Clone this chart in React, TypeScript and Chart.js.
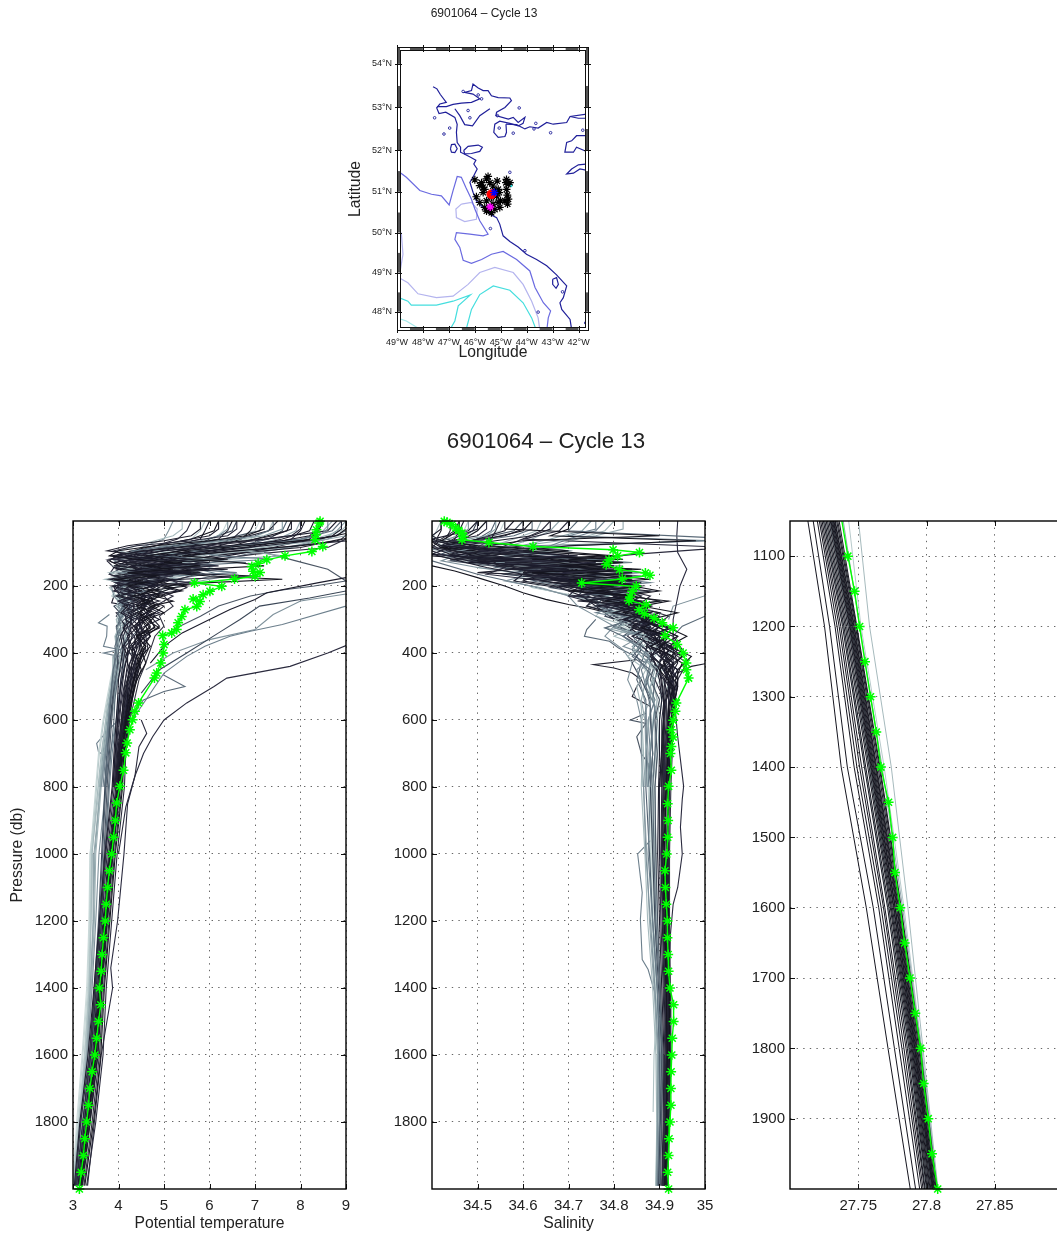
import React, { useEffect, useRef } from "react";
import { Chart, registerables } from "chart.js";

Chart.register(...registerables);

const FONT = "'Liberation Sans', Arial, sans-serif";
const INK = "#222222";
const TITLE_TEXT = "6901064 – Cycle 13";

// ---------- tick lists ----------
const THETA_TICKS = [3, 4, 5, 6, 7, 8, 9];
const SALINITY_TICKS = [34.5, 34.6, 34.7, 34.8, 34.9, 35];
const DENSITY_TICKS = [27.75, 27.8, 27.85];
const PRESSURE_TICKS = [200, 400, 600, 800, 1000, 1200, 1400, 1600, 1800];
const DEEP_PRESSURE_TICKS = [1100, 1200, 1300, 1400, 1500, 1600, 1700, 1800, 1900];
const MAP_LON_TICKS = [-49, -48, -47, -46, -45, -44, -43, -42];
const MAP_LON_LABELS = ["49°W", "48°W", "47°W", "46°W", "45°W", "44°W", "43°W", "42°W"];
const MAP_LAT_TICKS = [48, 49, 50, 51, 52, 53, 54];
const MAP_LAT_LABELS = ["48°N", "49°N", "50°N", "51°N", "52°N", "53°N", "54°N"];

// ---------- shared pressure levels for the reference casts ----------
const CAST_LEVELS = [6, 35, 60, 85, 105, 125, 145, 165, 185, 205, 230, 260, 290, 320, 350, 390, 430, 480, 540, 600, 700, 800, 1000, 1200, 1400, 1600, 1800, 1990];

const CAST_COLORS = [
  "#15151f", "#1c1c2c", "#20202e", "#15151f", "#2a2a3c", "#1c1c2c", "#20202e", "#2a2a3c",
  "#15151f", "#2a2a3c", "#1c1c2c", "#20202e", "#15151f", "#30303f", "#1c1c2c", "#20202e",
  "#4a5563", "#5a6a78", "#3a4656", "#6c7f8c", "#506070", "#7e919b",
  "#93a7ad", "#a6babd", "#b8cacb", "#c6d6d6", "#9db0b5", "#b0c3c5", "#88a0a6", "#cfdcdc",
];

const CAST_THETA = [
  [6.2,6.1,5.6,4.6,4.0,3.8,4.1,4.5,4.2,4.4,4.6,4.5,4.5,4.4,4.4,4.3,4.3,4.2,4.2,4.15,4.05,4.0,3.84,3.72,3.6,3.5,3.33,3.17],
  [8.8,8.6,7.2,5.2,4.4,4.2,3.9,4.3,4.7,4.3,4.5,4.6,4.4,4.5,4.35,4.4,4.3,4.25,4.18,4.1,4.0,3.96,3.8,3.68,3.56,3.45,3.28,3.13],
  [7.5,7.3,6.6,5.8,4.9,4.1,4.4,4.0,4.4,4.8,4.4,4.7,4.6,4.5,4.5,4.45,4.35,4.3,4.25,4.2,4.08,4.04,3.88,3.76,3.64,3.55,3.38,3.21],
  [9.6,9.3,8.4,6.2,5.1,4.6,4.2,4.6,5.0,4.6,4.9,4.5,4.8,4.6,4.7,4.5,4.6,4.4,4.3,4.22,4.12,4.09,3.93,3.81,3.69,3.61,3.45,3.26],
  [6.8,6.7,6.5,5.9,5.2,4.5,3.95,4.2,4.0,4.5,4.2,4.35,4.25,4.3,4.2,4.25,4.15,4.1,4.05,4.0,3.95,3.91,3.75,3.63,3.51,3.39,3.21,3.08],
  [8.1,8.0,7.8,6.9,5.6,4.9,4.5,4.1,4.3,4.1,4.6,4.4,4.6,4.35,4.5,4.4,4.25,4.2,4.12,4.06,3.98,3.94,3.78,3.66,3.54,3.43,3.25,3.11],
  [9.2,9.1,8.9,8.0,6.4,5.3,4.8,4.4,4.6,4.9,4.4,5.0,4.7,4.9,4.6,4.65,4.5,4.35,4.28,4.18,4.06,4.02,3.86,3.74,3.62,3.52,3.36,3.19],
  [5.6,5.5,5.3,4.7,4.1,3.75,3.9,3.8,4.3,4.0,4.1,4.25,4.15,4.2,4.1,4.15,4.1,4.05,4.02,3.98,3.92,3.88,3.72,3.6,3.48,3.36,3.17,3.05],
  [7.0,6.9,6.7,6.1,5.4,4.7,4.3,4.8,4.5,5.2,4.7,4.8,4.5,4.7,4.45,4.5,4.4,4.32,4.22,4.14,4.03,3.98,3.82,3.7,3.58,3.48,3.3,3.15],
  [9.9,9.7,9.4,7.5,5.8,5.0,5.4,4.8,5.1,4.7,5.2,4.8,4.6,4.8,4.55,4.6,4.45,4.38,4.3,4.24,4.16,4.13,3.97,3.85,3.73,3.66,3.5,3.3],
  [8.5,8.4,8.2,7.4,6.6,5.7,5.0,5.3,4.7,4.5,4.7,4.55,4.7,4.4,4.5,4.35,4.38,4.28,4.2,4.12,4.02,3.97,3.81,3.69,3.57,3.46,3.29,3.14],
  [6.5,6.4,6.2,5.3,4.6,4.3,4.0,4.4,3.85,4.2,4.3,4.1,4.3,4.25,4.3,4.2,4.2,4.15,4.1,4.07,4.03,4.01,3.85,3.73,3.61,3.51,3.34,3.18],
  [7.8,7.7,7.0,6.4,5.7,5.1,4.6,5.0,4.4,4.6,4.3,4.9,4.45,4.6,4.4,4.55,4.42,4.33,4.25,4.16,4.07,4.03,3.87,3.75,3.63,3.54,3.37,3.2],
  [9.4,9.2,9.0,8.6,7.0,5.9,5.3,5.7,5.2,5.5,5.0,5.2,4.9,5.0,4.8,4.7,4.6,4.45,4.35,4.25,4.13,4.07,3.91,3.79,3.67,3.58,3.42,3.24],
  [6.0,5.9,5.8,5.1,4.3,4.0,4.6,3.95,4.1,3.9,4.05,4.2,4.0,4.15,4.05,4.1,4.05,4.0,3.98,3.95,3.9,3.86,3.7,3.58,3.46,3.33,3.15,3.03],
  [8.3,8.2,7.6,6.8,5.0,4.4,4.7,4.2,4.5,4.3,4.8,4.3,4.55,4.45,4.6,4.3,4.35,4.22,4.15,4.09,4.02,3.99,3.83,3.71,3.59,3.49,3.32,3.16],
  [7.2,7.1,6.3,5.0,4.2,4.5,4.9,4.3,3.9,4.1,4.0,4.1,3.95,4.2,4.0,3.95,4.0,3.9,3.88,3.85,3.8,3.75,3.68,3.6,3.5,3.38,3.24,3.08],
  [8.9,8.7,8.0,6.0,5.5,4.8,5.5,5.9,5.0,4.4,4.55,4.2,4.3,4.1,4.2,4.05,4.1,3.98,3.92,3.9,3.83,3.78,3.7,3.62,3.52,3.4,3.25,3.1],
  [6.6,6.5,6.0,5.6,5.0,4.4,4.1,3.8,4.2,3.95,4.35,3.9,4.1,3.95,4.05,3.95,3.98,3.92,3.86,3.82,3.75,3.7,3.63,3.56,3.47,3.36,3.22,3.06],
  [9.3,9.0,8.6,7.8,6.8,6.2,5.6,6.2,5.6,5.0,4.8,4.6,4.4,4.5,4.3,4.2,4.15,4.05,4.0,3.95,3.86,3.8,3.72,3.64,3.53,3.41,3.26,3.11],
  [7.7,7.6,7.3,6.5,5.3,4.6,4.3,4.7,4.4,4.2,3.95,4.3,4.2,3.98,4.1,4.0,3.98,3.94,3.88,3.82,3.78,3.72,3.65,3.58,3.48,3.37,3.23,3.07],
  [5.2,5.1,5.0,4.5,4.3,3.9,4.2,4.5,4.0,3.85,3.9,4.1,4.15,4.25,4.2,4.1,4.12,4.08,4.0,3.95,3.82,3.72,3.57,3.5,3.42,3.32,3.18,3.04],
  [8.0,7.9,7.5,6.7,5.9,5.2,4.6,4.9,5.4,4.6,4.3,4.3,4.2,4.1,4.15,4.05,4.0,3.95,3.88,3.82,3.7,3.6,3.46,3.44,3.38,3.3,3.16,3.02],
  [9.1,8.9,8.3,7.2,6.3,5.5,5.2,5.6,4.8,4.3,4.1,4.2,4.3,4.05,4.0,3.98,3.95,3.88,3.8,3.72,3.62,3.55,3.42,3.4,3.36,3.28,3.14,3.0],
  [7.4,7.3,6.9,5.5,4.8,4.4,4.8,4.2,4.4,4.0,3.85,4.3,4.05,4.1,3.98,4.0,3.92,3.85,3.76,3.68,3.58,3.52,3.4,3.38,3.34,3.25,3.12,3.0],
  [6.4,6.3,6.1,5.2,4.7,4.2,4.5,4.05,3.9,4.15,4.0,4.15,4.0,4.05,4.0,3.95,3.9,3.82,3.74,3.66,3.56,3.5,3.38,3.36,3.32,3.22,3.1,2.98],
  [8.7,8.5,8.1,7.0,6.0,5.4,5.8,5.1,4.6,4.9,4.4,4.4,4.3,4.2,4.25,4.1,4.05,3.98,3.92,3.85,3.72,3.62,3.5,3.47,3.4,3.32,3.18,3.03],
  [5.9,5.8,5.6,4.9,4.4,4.7,4.25,4.0,4.3,3.8,3.95,4.1,4.05,4.0,4.05,3.98,3.96,3.9,3.84,3.78,3.66,3.58,3.41,3.39,3.35,3.26,3.13,3.01],
  [9.0,8.8,8.5,7.7,6.2,5.6,6.0,6.6,5.8,5.2,4.7,4.5,4.35,4.25,4.15,4.1,4.02,3.96,3.9,3.82,3.7,3.6,3.48,3.45,3.38,3.3,3.17,3.05],
  [7.1,7.0,6.4,5.7,5.1,4.6,4.9,4.4,4.05,4.25,3.9,4.05,4.12,4.0,3.98,4.0,3.92,3.86,3.8,3.74,3.64,3.56,3.37,3.35,3.3,3.2,3.08,2.99],
];

const CAST_SALINITY = [
  [34.38,34.38,34.39,34.42,34.55,34.72,34.66,34.75,34.7,34.78,34.8,34.83,34.86,34.87,34.89,34.9,34.91,34.92,34.925,34.92,34.918,34.915,34.91,34.912,34.915,34.917,34.915,34.912],
  [34.5,34.48,34.4,34.46,34.6,34.68,34.62,34.74,34.78,34.72,34.8,34.84,34.82,34.88,34.87,34.91,34.92,34.93,34.93,34.925,34.92,34.918,34.915,34.916,34.918,34.92,34.918,34.915],
  [34.44,34.44,34.43,34.5,34.58,34.64,34.7,34.66,34.76,34.8,34.77,34.85,34.87,34.86,34.9,34.9,34.93,34.925,34.93,34.92,34.92,34.92,34.918,34.918,34.92,34.918,34.916,34.913],
  [34.62,34.6,34.52,34.42,34.48,34.58,34.68,34.74,34.8,34.76,34.84,34.8,34.88,34.86,34.92,34.9,34.95,34.935,34.93,34.928,34.925,34.92,34.918,34.92,34.922,34.922,34.92,34.918],
  [34.36,34.37,34.38,34.41,34.46,34.55,34.63,34.6,34.72,34.68,34.77,34.82,34.8,34.86,34.85,34.89,34.88,34.91,34.915,34.91,34.91,34.908,34.905,34.908,34.912,34.915,34.912,34.908],
  [34.47,34.46,34.45,34.44,34.52,34.6,34.72,34.68,34.78,34.74,34.82,34.86,34.84,34.9,34.88,34.92,34.91,34.94,34.925,34.93,34.92,34.915,34.912,34.914,34.916,34.918,34.914,34.91],
  [34.55,34.54,34.53,34.5,34.44,34.52,34.6,34.7,34.64,34.76,34.82,34.78,34.86,34.9,34.87,34.93,34.94,34.92,34.935,34.925,34.922,34.92,34.916,34.918,34.92,34.92,34.917,34.914],
  [34.33,34.34,34.35,34.38,34.42,34.48,34.56,34.52,34.65,34.72,34.7,34.78,34.8,34.84,34.83,34.87,34.9,34.89,34.91,34.905,34.905,34.9,34.9,34.903,34.908,34.912,34.91,34.906],
  [34.42,34.42,34.41,34.46,34.5,34.62,34.7,34.76,34.72,34.84,34.8,34.83,34.88,34.84,34.91,34.89,34.93,34.91,34.92,34.92,34.915,34.912,34.908,34.91,34.914,34.916,34.913,34.91],
  [34.7,34.68,34.6,35.05,34.85,34.7,34.78,34.72,34.82,34.78,34.86,34.82,34.9,34.87,34.93,34.95,34.92,34.94,34.93,34.93,34.925,34.922,34.92,34.92,34.922,34.924,34.92,34.916],
  [34.58,34.56,34.5,34.44,34.4,34.56,34.66,34.6,34.74,34.82,34.76,34.87,34.84,34.89,34.86,34.92,34.9,34.92,34.92,34.922,34.918,34.914,34.91,34.914,34.918,34.92,34.916,34.912],
  [34.4,34.39,34.38,34.4,34.44,34.5,34.58,34.64,34.6,34.7,34.76,34.74,34.82,34.85,34.88,34.87,34.9,34.905,34.91,34.912,34.908,34.905,34.903,34.906,34.91,34.914,34.91,34.906],
  [34.52,34.5,34.47,34.43,34.56,34.66,34.74,34.68,34.8,34.75,34.83,34.88,34.85,34.9,34.88,34.94,34.91,34.925,34.92,34.918,34.912,34.91,34.906,34.91,34.915,34.917,34.914,34.91],
  [34.66,34.64,34.6,34.55,34.48,34.6,34.7,34.78,34.84,34.8,34.88,34.85,34.92,34.89,34.94,34.92,34.96,34.94,34.935,34.93,34.928,34.925,34.922,34.922,34.924,34.925,34.922,34.918],
  [34.3,34.31,34.32,34.36,34.4,34.46,34.52,34.6,34.58,34.68,34.73,34.76,34.79,34.83,34.86,34.88,34.89,34.9,34.905,34.9,34.9,34.898,34.896,34.9,34.905,34.91,34.908,34.905],
  [34.46,34.45,34.42,34.4,34.5,34.54,34.64,34.72,34.68,34.78,34.74,34.82,34.86,34.83,34.89,34.91,34.9,34.93,34.915,34.915,34.91,34.908,34.904,34.908,34.912,34.915,34.912,34.908],
  [34.6,34.58,34.5,34.42,34.52,34.44,34.56,34.66,34.72,34.66,34.78,34.74,34.84,34.8,34.87,34.85,34.89,34.88,34.9,34.89,34.895,34.89,34.892,34.896,34.902,34.908,34.905,34.902],
  [34.72,34.7,35.08,34.62,34.5,34.6,34.54,34.7,34.64,34.76,34.8,34.86,34.82,34.88,34.84,34.87,34.86,34.89,34.885,34.895,34.89,34.885,34.888,34.892,34.9,34.906,34.904,34.9],
  [34.5,34.49,34.46,34.42,34.48,34.58,34.64,34.56,34.7,34.74,34.72,34.8,34.78,34.85,34.82,34.86,34.84,34.86,34.88,34.88,34.885,34.88,34.885,34.89,34.898,34.905,34.902,34.898],
  [34.78,34.76,34.7,34.65,34.55,34.48,34.62,34.74,34.68,34.82,34.86,34.83,34.88,34.85,34.9,34.87,34.88,34.87,34.89,34.875,34.88,34.88,34.875,34.885,34.895,34.902,34.9,34.897],
  [34.54,34.53,34.5,34.46,34.42,34.54,34.6,34.68,34.62,34.72,34.78,34.76,34.84,34.81,34.86,34.84,34.86,34.85,34.87,34.87,34.872,34.87,34.878,34.885,34.895,34.9,34.9,34.896],
  [34.34,34.34,34.36,34.38,34.46,34.42,34.5,34.62,34.56,34.64,34.7,34.72,34.76,34.8,34.78,34.82,34.84,34.83,34.85,34.86,34.86,34.865,34.87,34.88,34.89,34.898,34.896,34.894],
  [34.68,34.66,34.62,34.56,34.48,34.64,34.7,34.76,34.7,34.82,34.78,34.86,34.83,34.88,34.85,34.87,34.9,34.87,34.86,34.868,34.87,34.865,34.872,34.878,34.888,34.896,34.895,34.893],
  [34.8,34.78,34.72,34.66,34.58,34.52,34.66,34.6,34.74,34.8,34.84,34.8,34.87,34.9,34.86,34.88,34.87,34.875,34.88,34.86,34.862,34.86,34.868,34.874,34.885,34.892,34.894,34.892],
  [34.48,34.47,34.44,34.42,34.5,34.46,34.58,34.66,34.72,34.78,34.74,34.82,34.79,34.85,34.88,34.86,34.885,34.87,34.89,34.875,34.87,34.875,34.88,34.882,34.89,34.895,34.895,34.892],
  [34.56,34.55,34.5,34.44,34.4,34.5,34.56,34.62,34.58,34.7,34.76,34.8,34.84,34.82,34.87,34.89,34.875,34.9,34.88,34.88,34.885,34.878,34.884,34.888,34.892,34.896,34.896,34.893],
  [34.64,34.63,34.58,34.52,34.44,34.58,34.68,34.74,34.8,34.72,34.84,34.78,34.88,34.85,34.9,34.88,34.92,34.885,34.895,34.89,34.89,34.882,34.886,34.89,34.895,34.9,34.897,34.894],
  [34.42,34.41,34.4,34.43,34.48,34.54,34.5,34.6,34.66,34.62,34.72,34.78,34.76,34.83,34.86,34.9,34.88,34.91,34.9,34.895,34.892,34.886,34.89,34.893,34.9,34.902,34.898,34.895],
  [34.75,34.73,34.66,34.58,34.5,34.62,34.72,34.66,34.8,34.86,34.82,34.88,34.85,34.92,34.9,34.93,34.895,34.925,34.905,34.9,34.896,34.89,34.892,34.895,34.902,34.905,34.9,34.896],
  [34.52,34.5,34.46,34.4,34.46,34.52,34.6,34.56,34.68,34.74,34.7,34.8,34.84,34.81,34.88,34.86,34.89,34.88,34.895,34.885,34.885,34.88,34.882,34.886,34.894,34.898,34.896,34.892],
];

// casts sampled finely in the upper ocean only
const UPPER_LEVELS = [8, 30, 50, 65, 80, 95, 110, 120, 130, 140, 150, 160, 170, 180, 190, 200, 215, 230, 245, 260, 280, 300, 325, 350, 380, 410, 450, 500, 560, 700, 800];
const UPPER_COLORS = ["#15151f", "#1c1c2c", "#20202e", "#15151f", "#2a2a3c", "#1c1c2c", "#20202e", "#15151f", "#1c1c2c", "#2a2a3c", "#5a6a78", "#6c7f8c", "#7e919b", "#93a7ad", "#a6babd", "#88a0a6"];
const UPPER_THETA = [
  [7.2,7.2,6.8,6.0,4.8,4.0,3.8,4.4,5.4,4.6,5.2,4.2,4.9,3.9,4.6,4.2,4.9,4.3,4.7,4.4,4.8,4.5,4.7,4.4,4.6,4.4,4.5,4.35,4.25,4.05,3.98],
  [8.4,8.4,8.2,7.6,6.4,5.0,4.2,4.9,6.0,5.0,4.4,5.6,4.6,5.2,4.3,4.8,4.2,4.6,4.1,4.5,4.3,4.6,4.35,4.5,4.3,4.4,4.3,4.25,4.18,4.02,3.96],
  [5.8,5.8,5.6,5.0,4.2,3.75,4.6,5.6,4.6,3.9,4.8,5.8,4.4,4.0,4.6,3.85,4.3,4.05,4.5,4.1,4.4,4.15,4.4,4.2,4.3,4.15,4.25,4.15,4.1,3.98,3.92],
  [9.4,9.3,9.2,8.8,8.0,6.6,5.4,6.4,5.0,5.8,4.7,5.4,4.5,5.0,4.9,5.5,4.6,5.0,4.5,4.8,4.4,4.7,4.8,4.4,4.6,4.5,4.4,4.3,4.2,4.08,4.02],
  [6.6,6.6,6.4,5.6,4.4,3.9,4.2,3.8,5.0,6.2,4.8,4.2,5.2,4.4,3.95,4.4,3.9,4.4,4.0,4.3,4.1,4.4,4.2,4.35,4.15,4.3,4.2,4.12,4.05,3.96,3.9],
  [8.9,8.9,8.7,8.2,7.2,6.0,5.0,4.3,5.2,4.4,6.4,5.0,7.0,5.4,4.6,4.9,5.3,4.5,4.9,4.5,4.6,4.9,4.5,4.7,4.45,4.5,4.4,4.3,4.22,4.1,4.04],
  [7.8,7.8,7.4,6.8,5.6,4.5,4.0,4.8,4.2,5.0,5.6,4.4,3.9,4.5,4.9,4.2,4.5,3.95,4.4,4.6,4.2,4.5,4.3,4.45,4.25,4.35,4.25,4.18,4.12,4.0,3.94],
  [9.0,9.0,8.8,8.0,6.8,5.4,4.6,5.5,6.6,7.2,5.8,5.0,6.0,7.6,6.0,5.0,5.4,4.8,5.2,4.7,5.0,4.6,4.9,4.5,4.7,4.5,4.45,4.35,4.25,4.12,4.06],
  [6.2,6.2,6.0,5.4,5.8,4.6,3.85,4.3,3.9,4.4,4.0,5.0,4.2,3.8,4.3,4.0,3.9,4.3,4.0,4.2,4.05,4.3,4.1,4.25,4.1,4.2,4.12,4.05,4.0,3.93,3.88],
  [8.0,8.0,7.8,7.0,6.0,5.0,4.4,3.9,4.5,5.4,6.0,4.7,4.2,4.8,5.6,4.5,4.1,4.7,4.3,4.6,4.9,4.3,4.5,4.6,4.3,4.4,4.35,4.2,4.15,4.03,3.97],
  [7.4,7.4,7.0,6.2,5.2,4.3,4.9,5.8,6.8,5.5,4.6,5.2,4.3,4.0,4.4,4.1,3.95,4.3,4.0,4.15,3.98,4.05,3.95,4.0,3.92,3.95,3.88,3.85,3.82,3.75,3.7],
  [8.6,8.6,8.4,7.8,6.6,5.6,6.2,7.4,6.0,5.0,5.6,6.6,5.2,4.5,4.8,4.3,4.6,4.05,4.3,4.05,4.15,4.0,4.05,3.95,3.95,3.92,3.9,3.85,3.8,3.72,3.66],
  [6.4,6.4,6.2,5.8,5.0,4.4,4.0,4.6,5.2,4.4,4.9,4.0,4.4,3.85,4.2,4.0,4.1,4.05,4.2,4.0,4.1,4.0,4.05,3.95,4.0,3.9,3.95,3.88,3.82,3.7,3.62],
  [9.2,9.1,9.0,8.4,7.4,6.8,7.6,6.4,5.4,6.0,5.0,5.8,4.6,5.0,4.3,4.6,4.1,4.4,4.2,4.1,4.2,4.05,4.1,4.0,4.0,3.95,3.92,3.86,3.8,3.68,3.6],
  [5.4,5.4,5.2,4.8,4.4,4.0,4.5,4.0,4.6,3.9,4.3,3.8,4.1,3.7,4.05,4.2,3.95,4.15,4.0,3.95,4.1,3.95,4.0,3.92,3.95,3.9,3.88,3.82,3.75,3.64,3.57],
  [7.6,7.6,7.2,6.4,5.4,4.8,5.5,6.2,5.0,5.8,4.6,4.2,4.7,4.1,4.4,4.1,4.2,4.0,4.15,3.98,4.05,3.96,4.0,3.94,3.96,3.9,3.88,3.84,3.78,3.66,3.58],
];
const UPPER_SALINITY = [
  [34.46,34.46,34.44,34.42,34.5,34.66,34.8,34.7,34.82,34.68,34.78,34.62,34.74,34.84,34.72,34.8,34.7,34.84,34.78,34.88,34.82,34.9,34.86,34.92,34.88,34.93,34.9,34.93,34.92,34.918,34.914],
  [34.6,34.6,34.56,34.48,34.42,34.55,34.72,34.6,34.5,34.66,34.76,34.62,34.7,34.6,34.8,34.7,34.84,34.76,34.86,34.8,34.88,34.84,34.92,34.88,34.94,34.9,34.94,34.92,34.93,34.922,34.918],
  [34.38,34.38,34.38,34.4,34.46,34.62,34.52,34.44,34.6,34.72,34.58,34.5,34.68,34.76,34.66,34.8,34.72,34.82,34.74,34.85,34.8,34.87,34.84,34.9,34.87,34.92,34.9,34.92,34.91,34.908,34.905],
  [34.7,34.7,34.66,34.98,34.7,34.6,34.78,34.62,34.82,34.7,34.86,34.74,34.84,34.7,34.8,34.86,34.76,34.84,34.9,34.82,34.9,34.86,34.9,34.94,34.9,34.95,34.92,34.94,34.93,34.925,34.92],
  [34.5,34.5,34.46,34.44,34.6,34.5,34.64,34.74,34.56,34.66,34.8,34.7,34.62,34.78,34.86,34.74,34.82,34.7,34.86,34.78,34.84,34.9,34.84,34.92,34.88,34.9,34.94,34.92,34.92,34.915,34.912],
  [34.66,34.66,34.62,34.54,34.46,34.56,34.48,34.62,34.72,34.8,34.64,34.84,34.72,34.66,34.82,34.76,34.88,34.8,34.84,34.76,34.88,34.82,34.93,34.87,34.92,34.95,34.91,34.93,34.92,34.92,34.916],
  [34.42,34.42,34.4,34.42,34.5,34.44,34.6,34.5,34.68,34.54,34.7,34.6,34.76,34.66,34.78,34.7,34.76,34.84,34.72,34.86,34.8,34.88,34.86,34.9,34.92,34.88,34.92,34.91,34.91,34.906,34.903],
  [34.56,34.56,34.9,34.6,34.52,34.7,34.58,34.82,34.66,34.76,34.84,34.7,34.8,34.88,34.76,34.84,34.9,34.82,34.92,34.86,34.94,34.88,34.92,34.96,34.92,34.97,34.94,34.94,34.93,34.924,34.92],
  [34.36,34.36,34.37,34.4,34.42,34.52,34.44,34.58,34.48,34.64,34.56,34.72,34.6,34.7,34.8,34.68,34.78,34.72,34.82,34.8,34.86,34.82,34.88,34.84,34.9,34.88,34.9,34.905,34.91,34.904,34.9],
  [34.52,34.52,34.5,34.44,34.42,34.6,34.7,34.54,34.76,34.66,34.58,34.74,34.84,34.7,34.78,34.86,34.74,34.84,34.78,34.88,34.84,34.9,34.86,34.92,34.88,34.93,34.91,34.92,34.92,34.912,34.91],
  [34.62,34.62,34.58,34.5,34.44,34.58,34.68,34.78,34.62,34.72,34.6,34.76,34.86,34.7,34.8,34.76,34.84,34.72,34.8,34.86,34.8,34.84,34.78,34.82,34.86,34.84,34.88,34.87,34.88,34.885,34.88],
  [34.76,34.76,34.7,35.02,34.62,34.7,34.56,34.74,34.84,34.68,34.78,34.86,34.74,34.82,34.88,34.8,34.76,34.84,34.9,34.82,34.76,34.84,34.88,34.82,34.85,34.88,34.86,34.87,34.89,34.88,34.875],
  [34.48,34.48,34.46,34.42,34.52,34.46,34.58,34.66,34.54,34.7,34.6,34.66,34.76,34.8,34.72,34.82,34.74,34.84,34.8,34.76,34.86,34.82,34.8,34.86,34.82,34.88,34.85,34.86,34.87,34.875,34.87],
  [34.82,34.82,34.76,34.68,34.6,34.7,34.62,34.76,34.66,34.82,34.72,34.84,34.78,34.74,34.86,34.78,34.88,34.82,34.78,34.84,34.9,34.84,34.78,34.86,34.9,34.86,34.89,34.88,34.88,34.87,34.868],
  [34.4,34.4,34.4,34.42,34.46,34.56,34.48,34.62,34.7,34.58,34.66,34.76,34.68,34.74,34.8,34.7,34.82,34.76,34.84,34.8,34.88,34.8,34.84,34.8,34.86,34.83,34.87,34.85,34.86,34.865,34.862],
  [34.54,34.54,34.52,34.46,34.54,34.66,34.56,34.72,34.8,34.64,34.74,34.82,34.7,34.78,34.84,34.74,34.86,34.78,34.82,34.88,34.78,34.86,34.8,34.88,34.84,34.86,34.9,34.88,34.89,34.878,34.874],
];

// [pressure, theta] pairs for single profiles that leave the main bundle
const THETA_OUTLIERS = [
  { color: "#2a2a3e", points: [[350,9.6],[378,9.0],[400,8.6],[440,7.77],[475,6.38],[500,6.1],[549,5.5],[600,5.0],[650,4.75],[700,4.55],[768,4.36],[850,4.2],[1000,4.12],[1200,3.98],[1340,3.83],[1400,3.87],[1600,3.62],[1800,3.47],[1990,3.32]] },
  { color: "#6c7f8c", points: [[240,9.3],[260,9.0],[315,7.6],[335,6.9],[350,6.45],[380,5.9],[410,5.5],[460,5.0],[520,4.7],[600,4.3]] },
  { color: "#3a4656", points: [[215,9.0],[236,8.2],[260,7.1],[300,6.67],[340,6.2],[400,5.5],[450,4.9],[520,4.5]] },
  { color: "#1c1c2c", points: [[175,9.0],[190,8.4],[220,7.26],[240,7.0],[270,6.45],[300,6.0],[340,5.4],[380,5.0],[430,4.7]] },
  { color: "#4a5563", points: [[100,7.2],[125,7.9],[150,8.6],[185,9.0],[200,8.3],[212,7.6],[230,6.9],[260,6.2],[290,5.8],[330,5.2]] },
  { color: "#7e919b", points: [[222,9.1],[245,8.0],[285,7.4],[330,7.0],[360,6.0],[400,5.2],[450,4.6]] },
  { color: "#5a6a78", points: [[465,4.98],[500,5.46],[515,5.0],[540,4.55],[580,4.3]] },
  { color: "#6c7f8c", points: [[285,3.8],[310,3.56],[320,3.75],[350,3.74],[380,3.67],[390,4.03],[400,3.67],[410,4.0],[400,4.3]] },
  { color: "#6c7f8c", points: [[600,4.0],[635,3.74],[670,3.52],[695,3.56],[710,3.74],[760,3.72],[800,3.7]] },
  { color: "#1c1c2c", points: [[230,3.9],[250,3.85],[265,4.5],[280,3.95],[300,4.1]] },
  { color: "#2a2a3c", points: [[600,4.5],[640,4.62],[680,4.45],[768,4.36],[860,4.16],[1000,4.0]] },
];

// [pressure, salinity] pairs for single profiles that leave the main bundle
const SALINITY_OUTLIERS = [
  { color: "#2a2a3e", points: [[6,34.94],[50,34.938],[100,34.94],[150,34.96],[200,34.945],[300,34.93],[500,34.93],[650,34.94],[798,34.953],[837,34.95],[920,34.946],[1000,34.95],[1100,34.94],[1150,34.93],[1240,34.924],[1315,34.922],[1450,34.92]] },
  { color: "#6c7f8c", points: [[960,34.88],[1000,34.852],[1115,34.862],[1195,34.858],[1315,34.862],[1345,34.875],[1425,34.892],[1500,34.9],[1990,34.9]] },
  { color: "#b0c3c5", points: [[1000,34.88],[1400,34.89],[1500,34.893],[1600,34.888],[1770,34.886]] },
  { color: "#5a6a78", points: [[300,34.76],[330,34.74],[350,34.735],[365,34.79],[385,34.81],[405,34.84],[430,34.87]] },
  { color: "#20202e", points: [[420,34.85],[435,34.755],[445,34.8],[460,34.84],[480,34.86],[500,34.85],[530,34.84],[560,34.88]] },
  { color: "#4a5563", points: [[580,34.87],[600,34.836],[610,34.87],[650,34.85],[700,34.86],[730,34.875],[800,34.88]] },
  { color: "#7e919b", points: [[229,35.0],[260,34.93],[300,34.92]] },
  { color: "#5a6a78", points: [[290,35.0],[320,34.95],[350,34.93]] },
  { color: "#20202e", points: [[432,35.0],[440,34.97],[460,34.94]] },
  { color: "#15151f", points: [[140,34.4],[155,34.45],[175,34.5],[200,34.56],[220,34.6],[240,34.65],[255,34.7],[268,34.75],[285,34.8],[300,34.86]] },
  { color: "#15151f", points: [[110,34.4],[120,34.5],[150,34.58],[170,34.65],[190,34.72],[210,34.8],[230,34.84]] },
  { color: "#5a6a78", points: [[125,34.4],[165,34.5],[195,34.6],[215,34.66],[240,34.74],[270,34.82]] },
];

// float profile highlighted in green
const FLOAT_PRESSURE_THETA = [7,12,32,47,62,82,97,110,122,132,142,156,160,171,179,191,201,216,226,239,246,261,271,291,310,330,340,348,375,400,430,460,475,549,574,599,629,669,698,750,798,848,900,950,1000,1050,1100,1150,1200,1250,1300,1350,1400,1450,1500,1550,1600,1650,1700,1750,1800,1850,1900,1950,2000];
const FLOAT_THETA = [8.43,8.41,8.35,8.34,8.32,8.49,8.25,7.66,7.26,7.07,6.93,6.96,7.11,7.0,6.55,5.67,6.27,6.01,5.86,5.64,5.79,5.72,5.46,5.39,5.31,5.28,5.17,4.97,5.0,4.98,4.93,4.84,4.79,4.44,4.36,4.31,4.25,4.19,4.16,4.11,4.03,3.96,3.93,3.89,3.85,3.8,3.76,3.73,3.71,3.67,3.64,3.62,3.58,3.61,3.56,3.52,3.48,3.42,3.37,3.34,3.3,3.26,3.23,3.18,3.14];
const FLOAT_PRESSURE_SALINITY = [7,10,17,27,34,42,52,62,70,82,92,100,110,122,136,151,161,168,179,191,201,216,233,243,256,271,283,296,310,325,348,375,400,430,450,475,549,574,601,629,651,679,700,750,798,850,900,950,1000,1050,1100,1150,1200,1250,1300,1350,1400,1450,1500,1550,1600,1650,1700,1750,1800,1850,1900,1950,2000];
const FLOAT_SALINITY = [34.427,34.433,34.444,34.452,34.459,34.466,34.469,34.466,34.525,34.622,34.798,34.856,34.808,34.789,34.783,34.812,34.869,34.879,34.818,34.729,34.849,34.84,34.835,34.833,34.871,34.855,34.867,34.888,34.906,34.93,34.912,34.939,34.952,34.959,34.959,34.964,34.937,34.935,34.93,34.926,34.93,34.926,34.924,34.926,34.92,34.918,34.919,34.918,34.916,34.912,34.913,34.915,34.9175,34.9175,34.919,34.92,34.923,34.931,34.931,34.928,34.927,34.9255,34.925,34.925,34.923,34.921,34.92,34.918,34.92];
const FLOAT_PRESSURE_DENSITY = [1050,1100,1150,1200,1250,1300,1350,1400,1450,1500,1550,1600,1650,1700,1750,1800,1850,1900,1950,2000];
const FLOAT_DENSITY = [27.738,27.7424,27.7473,27.751,27.7549,27.759,27.7632,27.7666,27.7722,27.7752,27.7769,27.7808,27.784,27.7879,27.7918,27.7957,27.7979,27.8013,27.804,27.8082];

// deep density panel
const DENSITY_LEVELS = [1050, 1200, 1400, 1600, 1800, 2000];
const CAST_DENSITY = [
  [27.7131,27.7253,27.7375,27.7559,27.7718,27.7881],
  [27.717,27.729,27.742,27.761,27.7765,27.792],
  [27.72,27.733,27.747,27.765,27.78,27.795],
  [27.7225,27.736,27.751,27.7685,27.7835,27.7975],
  [27.7245,27.7385,27.7545,27.7715,27.786,27.799],
  [27.7265,27.7405,27.757,27.7735,27.788,27.8005],
  [27.7285,27.7425,27.759,27.775,27.7895,27.802],
  [27.73,27.744,27.76,27.7762,27.7905,27.8032],
  [27.7312,27.7452,27.7612,27.7772,27.7915,27.8044],
  [27.7322,27.7462,27.7625,27.7785,27.7925,27.805],
  [27.7332,27.7472,27.7635,27.7795,27.7935,27.8058],
  [27.7342,27.748,27.7645,27.7803,27.7943,27.8064],
  [27.735,27.7486,27.7654,27.781,27.795,27.807],
  [27.736,27.749,27.766,27.7815,27.7956,27.8075],
  [27.7305,27.7445,27.7605,27.777,27.7912,27.804],
  [27.7328,27.7468,27.763,27.779,27.793,27.8055],
  [27.7235,27.7372,27.7525,27.7695,27.785,27.7985],
  [27.7255,27.7395,27.7555,27.7725,27.7872,27.8],
  [27.7275,27.7415,27.758,27.7742,27.7888,27.8012],
  [27.7215,27.7345,27.749,27.7668,27.782,27.7965],
  [27.7295,27.7435,27.7595,27.7758,27.79,27.8026],
  [27.7318,27.7458,27.7618,27.778,27.792,27.8048],
  [27.739,27.751,27.7675,27.7825,27.7962,27.808],
  [27.7502,27.7583,27.7742,27.7864,27.7974,27.8084],
  [27.743,27.752,27.769,27.7835,27.7965,27.8078],
  [27.727,27.741,27.7575,27.774,27.7885,27.801],
  [27.729,27.743,27.7585,27.7745,27.789,27.8018],
  [27.725,27.739,27.755,27.772,27.7868,27.7995],
  [27.731,27.745,27.761,27.7768,27.7908,27.8036],
  [27.734,27.7478,27.764,27.7798,27.7938,27.806],
];

// ---------- map contours, [lon, lat] pairs ----------
const CONTOUR_NAVY = [
  [[-47.61,53.48],[-47.46,53.43],[-47.33,53.3],[-47.1,53.12],[-47.35,53.08],[-47.47,52.99],[-47.38,52.86],[-47.12,52.89],[-46.77,52.77],[-46.68,52.61],[-46.71,52.42],[-46.68,52.18],[-46.55,52.07],[-46.55,51.95],[-46.35,51.89],[-46.13,51.82],[-45.96,51.76],[-46.04,51.67],[-45.91,51.55],[-46.07,51.35],[-46.19,51.23],[-46.07,50.99],[-45.94,50.78],[-45.68,50.62],[-45.42,50.45],[-45.16,50.37],[-45.04,50.21],[-44.91,49.92],[-44.65,49.78],[-44.33,49.64],[-44.01,49.46],[-43.62,49.33],[-43.23,49.17],[-42.85,48.94],[-42.46,48.66],[-42.59,48.36],[-42.72,48.23],[-42.65,48.06],[-42.33,47.8],[-42.27,47.54]],
  [[-47.46,53.02],[-47.1,53.02],[-46.84,53.07],[-46.52,53.1],[-46.13,53.12],[-45.81,53.2],[-46.07,53.31],[-46.39,53.35],[-46.13,53.39],[-46.07,53.54],[-45.87,53.45],[-45.68,53.39],[-45.49,53.39],[-45.36,53.27],[-45.1,53.23],[-44.65,53.22],[-44.59,53.16],[-44.84,53.0],[-45.16,52.89],[-45.19,52.81],[-44.71,52.73],[-44.52,52.77],[-44.33,52.65],[-44.07,52.77],[-44.14,52.63],[-44.33,52.57],[-44.65,52.63],[-45.04,52.68],[-45.23,52.61],[-45.27,52.42],[-45.1,52.3],[-44.84,52.32],[-44.78,52.42],[-44.8,52.61]],
  [[-44.8,52.61],[-44.39,52.6],[-44.07,52.5],[-43.88,52.55],[-43.56,52.52],[-43.23,52.65],[-42.98,52.61],[-42.46,52.65],[-42.33,52.79],[-41.63,52.85]],
  [[-46.77,52.97],[-46.58,52.81],[-46.39,52.6],[-46.09,52.57],[-45.81,52.81],[-45.42,52.97]],
  [[-41.63,52.75],[-42.01,52.75],[-42.33,52.79]],
  [[-41.63,52.34],[-42.08,52.34],[-42.27,52.22],[-42.46,52.18],[-42.53,51.95],[-42.2,51.95],[-42.08,52.07],[-41.63,51.95]],
  [[-41.63,51.67],[-42.01,51.65],[-42.27,51.55],[-42.46,51.43],[-42.2,51.45],[-41.95,51.55],[-41.63,51.51]],
  [[-46.94,52.03],[-46.9,52.13],[-46.77,52.14],[-46.68,52.03],[-46.77,51.94],[-46.9,51.95],[-46.94,52.03]],
  [[-46.43,51.99],[-46.26,52.09],[-45.87,52.12],[-45.71,52.07],[-45.81,51.97],[-46.13,51.92],[-46.39,51.91],[-46.43,51.99]],
  [[-43.0,48.83],[-42.85,48.87],[-42.78,48.7],[-42.87,48.6],[-43.0,48.7],[-43.0,48.83]],
  [[-41.78,47.71],[-41.69,47.77],[-41.59,47.71],[-41.69,47.65],[-41.78,47.71]],
];
const CONTOUR_MID = [
  [[-49,51.52],[-48.64,51.35],[-48.12,51.03],[-47.67,50.94],[-47.29,50.9],[-46.99,50.68],[-46.84,51.03],[-46.68,51.37],[-46.52,51.35],[-46.35,51.11],[-46.13,50.82],[-46.0,50.58],[-45.81,50.29],[-45.49,49.96],[-45.68,49.92],[-46.19,49.96],[-46.71,50.0],[-46.77,49.83],[-46.58,49.63],[-46.45,49.31],[-46.13,49.23],[-45.74,49.33],[-45.36,49.46],[-44.91,49.53],[-44.39,49.33],[-43.88,49.04],[-43.68,48.62],[-43.36,48.23],[-43.08,48.02],[-43.17,47.84],[-43.23,47.5]],
];
const CONTOUR_PALE = [
  [[-49,50.22],[-48.83,49.96],[-48.77,49.46],[-48.92,48.87],[-48.58,48.74],[-48.19,48.46],[-47.48,48.36],[-46.84,48.4],[-46.26,48.7],[-45.81,49.0],[-45.23,49.13],[-44.52,49.0],[-44.14,48.7],[-43.81,48.27],[-43.56,47.84],[-43.49,47.5]],
  [[-46.52,50.7],[-46.13,50.74],[-45.91,50.58],[-45.94,50.33],[-46.39,50.27],[-46.71,50.37],[-46.73,50.58],[-46.52,50.7]],
];
const CONTOUR_CYAN = [
  [[-49,48.38],[-48.58,48.27],[-48.45,48.17],[-47.48,48.17],[-46.84,48.27],[-46.17,48.43],[-46.64,48.15],[-46.77,47.76],[-46.99,47.5]],
  [[-46.35,47.5],[-46.13,48.06],[-45.81,48.44],[-45.29,48.66],[-44.65,48.55],[-44.14,48.23],[-43.81,47.84],[-43.62,47.5]],
];
const CONTOUR_PALE_CYAN = [
  [[-49,47.84],[-48.64,47.76],[-48.0,47.5]],
  [[-45.04,47.5],[-44.65,47.52]],
];
const SMALL_RINGS = [[-46.97,52.52],[-47.19,52.38],[-47.55,52.76],[-46.45,53.37],[-45.87,53.29],[-45.74,53.2],[-44.29,52.99],[-45.13,52.81],[-46.26,52.93],[-46.19,52.76],[-44.65,51.47],[-45.4,50.1],[-43.08,52.41],[-44.52,52.4],[-45.06,52.52],[-43.65,52.63],[-43.72,52.5],[-41.84,52.47],[-43.56,47.99],[-44.07,49.55],[-42.62,48.51]];
const NEARBY_CASTS = [[-46.0,51.29],[-45.49,51.37],[-45.55,51.31],[-45.74,51.22],[-45.68,51.11],[-45.81,51.15],[-45.42,51.22],[-45.14,51.26],[-45.3,51.14],[-44.78,51.3],[-44.71,51.18],[-44.78,51.06],[-44.65,51.22],[-44.8,51.22],[-45.1,51.06],[-45.16,50.9],[-45.06,50.98],[-45.1,50.74],[-45.01,50.78],[-45.04,50.62],[-44.71,50.82],[-44.74,50.7],[-45.94,50.88],[-45.81,50.74],[-45.68,50.98],[-45.62,51.06],[-45.62,50.62],[-45.49,50.57],[-45.36,50.49],[-45.55,50.53],[-45.23,50.57],[-45.3,50.7],[-45.23,51.02],[-45.36,50.86],[-45.55,50.78],[-44.84,50.78],[-44.75,50.92]];
const FLOAT_FIX_RED = [[-45.36, 50.94]];
const FLOAT_FIX_BLUE = [[-45.25, 50.98]];
const FLOAT_FIX_MAGENTA = [[-45.41, 50.63]];
const FLOAT_FIX_CYAN = [[-44.59, 51.14]];

// ---------- helpers ----------
const mercator = (lat: number) =>
  (Math.log(Math.tan(Math.PI / 4 + (lat * Math.PI) / 360)) * 180) / Math.PI;

const fixedTicks = (values: number[]) => (scale: any) => {
  scale.ticks = values.map((value) => ({ value }));
};

const profile = (color: string, points: { x: number; y: number }[], width = 1.1) => ({
  data: points,
  showLine: true,
  borderColor: color,
  borderWidth: width,
  pointRadius: 0,
  tension: 0,
});

const pairUp = (xs: number[], ys: number[]) => xs.map((x, i) => ({ x, y: ys[i] }));

const floatLine = (xs: number[], ys: number[], hideFirst = false) => ({
  data: pairUp(xs, ys),
  showLine: true,
  borderColor: "#00ff00",
  borderWidth: 1.4,
  pointStyle: "star",
  pointRadius: (ctx: any) => (hideFirst && ctx.dataIndex === 0 ? 0 : 5),
  pointBorderColor: "#00ff00",
  pointBorderWidth: 1.5,
  pointBackgroundColor: "#00ff00",
  tension: 0,
  clip: false,
});

const insideTicks = {
  id: "insideTicks",
  afterDatasetsDraw(chart: any) {
    const { ctx, chartArea: a, scales } = chart;
    const len = 5;
    ctx.save();
    ctx.strokeStyle = "#111111";
    ctx.lineWidth = 1;
    ctx.beginPath();
    scales.x.ticks.forEach((t: any) => {
      const p = Math.round(scales.x.getPixelForValue(t.value)) + 0.5;
      ctx.moveTo(p, a.bottom);
      ctx.lineTo(p, a.bottom - len);
      ctx.moveTo(p, a.top);
      ctx.lineTo(p, a.top + len);
    });
    scales.y.ticks.forEach((t: any) => {
      const p = Math.round(scales.y.getPixelForValue(t.value)) + 0.5;
      ctx.moveTo(a.left, p);
      ctx.lineTo(a.left + len, p);
      ctx.moveTo(a.right, p);
      ctx.lineTo(a.right - len, p);
    });
    ctx.stroke();
    ctx.lineWidth = 1.4;
    ctx.strokeStyle = "#000000";
    ctx.strokeRect(a.left, a.top, a.right - a.left, a.bottom - a.top);
    ctx.restore();
  },
};

const fancyFrame = {
  id: "fancyFrame",
  afterDatasetsDraw(chart: any) {
    const { ctx, chartArea: a, scales } = chart;
    const band = 3;
    ctx.save();
    const xStops: number[] = [];
    for (let v = -49; v <= -41.5; v += 0.5) xStops.push(v);
    const yStops: number[] = [];
    for (let v = 47.5; v <= 54.5; v += 0.5) yStops.push(v);
    xStops.forEach((v) => {
      const x0 = Math.max(scales.x.getPixelForValue(v), a.left);
      const x1 = Math.min(scales.x.getPixelForValue(v + 0.5), a.right);
      if (x1 <= x0) return;
      const dark = Math.abs(Math.round((v + 49) * 2)) % 2 === 1;
      ctx.fillStyle = dark ? "#555555" : "#ffffff";
      ctx.fillRect(x0, a.top, x1 - x0, band);
      ctx.fillRect(x0, a.bottom - band, x1 - x0, band);
    });
    yStops.forEach((v) => {
      const y0 = Math.min(scales.y.getPixelForValue(mercator(v)), a.bottom);
      const y1 = Math.max(scales.y.getPixelForValue(mercator(v + 0.5)), a.top);
      if (y0 <= y1) return;
      const dark = Math.round(v * 2) % 2 === 0;
      ctx.fillStyle = dark ? "#555555" : "#ffffff";
      ctx.fillRect(a.left, y1, band, y0 - y1);
      ctx.fillRect(a.right - band, y1, band, y0 - y1);
    });
    ctx.strokeStyle = "#111111";
    ctx.lineWidth = 1;
    ctx.strokeRect(a.left + 0.5, a.top + 0.5, a.right - a.left - 1, a.bottom - a.top - 1);
    ctx.strokeRect(a.left + band + 0.5, a.top + band + 0.5, a.right - a.left - 2 * band - 1, a.bottom - a.top - 2 * band - 1);
    ctx.beginPath();
    scales.x.ticks.forEach((t: any) => {
      const p = Math.round(scales.x.getPixelForValue(t.value)) + 0.5;
      ctx.moveTo(p, a.top - 2);
      ctx.lineTo(p, a.top + band + 2);
      ctx.moveTo(p, a.bottom + 2);
      ctx.lineTo(p, a.bottom - band - 2);
    });
    scales.y.ticks.forEach((t: any) => {
      const p = Math.round(scales.y.getPixelForValue(t.value)) + 0.5;
      ctx.moveTo(a.left - 2, p);
      ctx.lineTo(a.left + band + 2, p);
      ctx.moveTo(a.right + 2, p);
      ctx.lineTo(a.right - band - 2, p);
    });
    ctx.stroke();
    ctx.restore();
  },
};

const gridStyle = {
  grid: { color: "#666666", lineWidth: 1, drawTicks: false },
  border: { display: false, dash: [1.4, 5.2] },
};

// empty axis on the right: keeps the plot box in place while a title stays centred on the whole canvas
const spacerAxis = (width: number) => ({
  type: "linear",
  position: "right",
  display: true,
  afterFit: (s: any) => { s.width = width; },
  grid: { display: false, drawTicks: false },
  border: { display: false },
  ticks: { display: false },
  title: { display: false },
});

const scalePair = (o: any) => ({
  x: {
    type: "linear",
    min: o.xMin,
    max: o.xMax,
    afterBuildTicks: fixedTicks(o.xTicks),
    afterFit: (s: any) => { s.height = o.xHeight; },
    ...gridStyle,
    ticks: {
      autoSkip: false,
      maxRotation: 0,
      padding: 8,
      color: INK,
      font: { family: FONT, size: 15 },
      callback: (v: number) => String(Math.round(v * 100) / 100),
    },
    title: o.xTitle
      ? { display: true, text: o.xTitle, color: INK, font: { family: FONT, size: 15.7 }, padding: { top: 0, bottom: 2 } }
      : { display: false },
  },
  y: {
    type: "linear",
    reverse: true,
    min: o.yMin,
    max: o.yMax,
    afterBuildTicks: fixedTicks(o.yTicks),
    afterFit: (s: any) => { s.width = o.yWidth; },
    ...gridStyle,
    ticks: {
      autoSkip: false,
      padding: 5,
      color: INK,
      font: { family: FONT, size: 15 },
      callback: (v: number) => String(Math.round(v)),
    },
    title: o.yTitle
      ? { display: true, text: o.yTitle, color: INK, font: { family: FONT, size: 15.7 }, padding: { top: 8, bottom: 0 } }
      : { display: false },
  },
});

const castDatasets = (values: number[][]) =>
  values.map((row, i) => profile(CAST_COLORS[i], pairUp(row, CAST_LEVELS)));
const upperDatasets = (values: number[][]) =>
  values.map((row, i) => profile(UPPER_COLORS[i], pairUp(row, UPPER_LEVELS)));
const outlierDatasets = (list: { color: string; points: number[][] }[]) =>
  list.map((o) => profile(o.color, o.points.map(([p, v]) => ({ x: v, y: p }))));

const baseOptions = {
  responsive: false,
  animation: false,
  events: [],
};

const thetaConfig = () => ({
  type: "scatter",
  data: {
    datasets: [
      floatLine(FLOAT_THETA, FLOAT_PRESSURE_THETA),
      ...upperDatasets(UPPER_THETA),
      ...castDatasets(CAST_THETA),
      ...outlierDatasets(THETA_OUTLIERS),
    ],
  },
  options: {
    ...baseOptions,
    layout: { padding: { top: 21, right: 24, left: 0, bottom: 0 } },
    plugins: { legend: { display: false }, tooltip: { enabled: false } },
    scales: scalePair({
      xMin: 3, xMax: 9, xTicks: THETA_TICKS, xHeight: 46, xTitle: "Potential temperature",
      yMin: 6, yMax: 2000, yTicks: PRESSURE_TICKS, yWidth: 73, yTitle: "Pressure (db)",
    }),
  },
  plugins: [insideTicks],
});

const salinityConfig = () => ({
  type: "scatter",
  data: {
    datasets: [
      floatLine(FLOAT_SALINITY, FLOAT_PRESSURE_SALINITY),
      ...upperDatasets(UPPER_SALINITY),
      ...castDatasets(CAST_SALINITY),
      ...outlierDatasets(SALINITY_OUTLIERS),
    ],
  },
  options: {
    ...baseOptions,
    layout: { padding: 0 },
    plugins: {
      legend: { display: false },
      tooltip: { enabled: false },
      title: {
        display: true,
        text: TITLE_TEXT,
        color: INK,
        font: { family: FONT, size: 22.3, weight: "normal", lineHeight: 1 },
        padding: { top: 11, bottom: 67.7 },
      },
    },
    scales: {
      ...scalePair({
        xMin: 34.4, xMax: 35, xTicks: SALINITY_TICKS, xHeight: 46, xTitle: "Salinity",
        yMin: 6, yMax: 2000, yTicks: PRESSURE_TICKS, yWidth: 86,
      }),
      spacer: spacerAxis(41),
    },
  },
  plugins: [insideTicks],
});

const densityConfig = () => ({
  type: "scatter",
  data: {
    datasets: [
      floatLine(FLOAT_DENSITY, FLOAT_PRESSURE_DENSITY, true),
      ...CAST_DENSITY.map((row, i) => profile(i < 22 ? "#15151f" : CAST_COLORS[i], pairUp(row, DENSITY_LEVELS), 1)),
    ],
  },
  options: {
    ...baseOptions,
    layout: { padding: { top: 21, right: 37, left: 0, bottom: 0 } },
    plugins: { legend: { display: false }, tooltip: { enabled: false } },
    scales: scalePair({
      xMin: 27.7, xMax: 27.9, xTicks: DENSITY_TICKS, xHeight: 46,
      yMin: 1050, yMax: 2000, yTicks: DEEP_PRESSURE_TICKS, yWidth: 90,
    }),
  },
  plugins: [insideTicks],
});

const mapPoints = (pairs: number[][]) => pairs.map(([lon, lat]) => ({ x: lon, y: mercator(lat) }));
const contourSets = (paths: number[][][], color: string) => paths.map((p) => profile(color, mapPoints(p), 1.2));
const mapMarker = (pairs: number[][], style: string, color: string, radius: number, width: number, fill = color) => ({
  data: mapPoints(pairs),
  showLine: false,
  pointStyle: style,
  pointRadius: radius,
  pointBorderColor: color,
  pointBackgroundColor: fill,
  pointBorderWidth: width,
});

const mapConfig = () => ({
  type: "scatter",
  data: {
    datasets: [
      mapMarker(FLOAT_FIX_BLUE, "star", "#0000ff", 4, 1.4),
      mapMarker(FLOAT_FIX_MAGENTA, "star", "#ff00ff", 4, 1.4),
      mapMarker(FLOAT_FIX_RED, "circle", "#ff0000", 4.5, 1),
      mapMarker(FLOAT_FIX_CYAN, "circle", "#00dddd", 0.8, 0.5),
      mapMarker(NEARBY_CASTS, "star", "#000000", 4, 1.2),
      ...contourSets(CONTOUR_NAVY, "#20209a"),
      mapMarker(SMALL_RINGS, "circle", "#20209a", 1.3, 0.9, "rgba(255,255,255,0)"),
      ...contourSets(CONTOUR_MID, "#6a6ae0"),
      ...contourSets(CONTOUR_PALE, "#b4b4ee"),
      ...contourSets(CONTOUR_CYAN, "#44dede"),
      ...contourSets(CONTOUR_PALE_CYAN, "#a4e8e8"),
    ],
  },
  options: {
    ...baseOptions,
    layout: { padding: 0 },
    plugins: {
      legend: { display: false },
      tooltip: { enabled: false },
      title: {
        display: true,
        text: TITLE_TEXT,
        color: INK,
        font: { family: FONT, size: 12, weight: "normal", lineHeight: 1 },
        padding: { top: 8, bottom: 27 },
      },
    },
    scales: {
      x: {
        type: "linear",
        min: -49,
        max: -41.6,
        afterBuildTicks: fixedTicks(MAP_LON_TICKS),
        afterFit: (s: any) => { s.height = 34; },
        grid: { display: false, drawTicks: false },
        border: { display: false },
        ticks: {
          autoSkip: false,
          maxRotation: 0,
          padding: 6,
          color: INK,
          font: { family: FONT, size: 9 },
          callback: (_v: number, i: number) => MAP_LON_LABELS[i],
        },
        title: { display: true, text: "Longitude", color: INK, font: { family: FONT, size: 15.7 }, padding: { top: 0, bottom: 3 } },
      },
      y: {
        type: "linear",
        min: mercator(47.5),
        max: mercator(54.38),
        afterBuildTicks: fixedTicks(MAP_LAT_TICKS.map(mercator)),
        afterFit: (s: any) => { s.width = 57; },
        grid: { display: false, drawTicks: false },
        border: { display: false },
        ticks: {
          autoSkip: false,
          padding: 5,
          color: INK,
          font: { family: FONT, size: 9 },
          callback: (_v: number, i: number) => MAP_LAT_LABELS[i],
        },
        title: { display: true, text: "Latitude", color: INK, font: { family: FONT, size: 15.7 }, padding: { top: 6, bottom: 0 } },
      },
      spacer: spacerAxis(39),
    },
  },
  plugins: [fancyFrame],
});

function Plot({ left, top, width, height, config }: any) {
  const ref = useRef<HTMLCanvasElement>(null);
  useEffect(() => {
    const chart = new Chart(ref.current as HTMLCanvasElement, config());
    return () => chart.destroy();
  }, []);
  return (
    <canvas
      ref={ref}
      width={width}
      height={height}
      style={{ position: "absolute", left, top, width, height, display: "block" }}
    />
  );
}

export default function App() {
  return (
    <div style={{ position: "absolute", left: 0, top: 0, width: 1057, height: 1233, overflow: "hidden", background: "#ffffff" }}>
      <Plot left={340} top={0} width={288} height={365} config={mapConfig} />
      <Plot left={0} top={500} width={370} height={735} config={thetaConfig} />
      <Plot left={346} top={420} width={400} height={815} config={salinityConfig} />
      <Plot left={700} top={500} width={400} height={735} config={densityConfig} />
    </div>
  );
}
